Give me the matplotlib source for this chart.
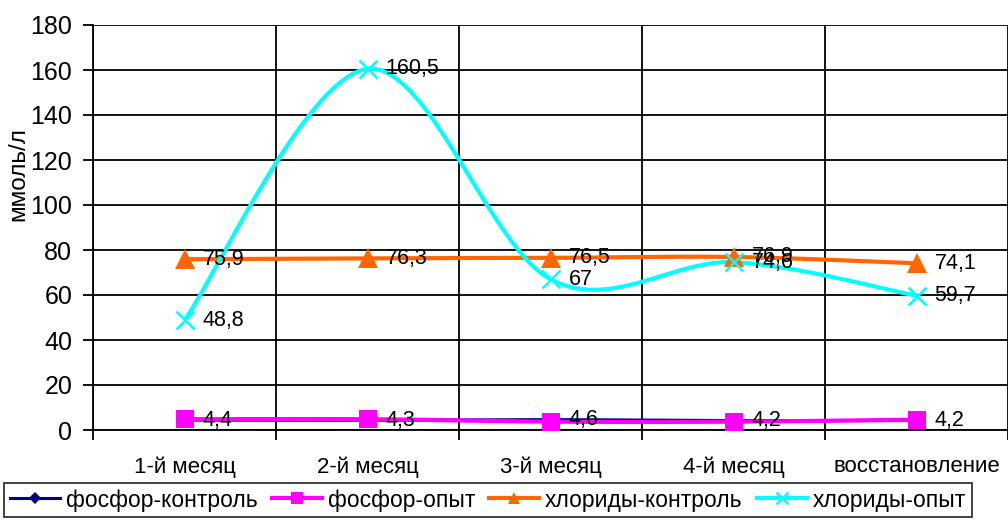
import numpy as np
import matplotlib
matplotlib.use("Agg")
import matplotlib.pyplot as plt
from matplotlib.lines import Line2D

plt.rcParams['font.family'] = ['Liberation Sans', 'DejaVu Sans']

categories = ["1-й месяц", "2-й месяц", "3-й месяц", "4-й месяц", "восстановление"]
phosphorus_control = [4.4, 4.3, 4.6, 4.2, 4.2]
phosphorus_test = [4.8, 4.8, 3.7, 3.7, 4.6]
chlorides_control = [75.9, 76.3, 76.5, 76.9, 74.1]
chlorides_test = [48.8, 160.5, 67.0, 74.6, 59.7]

series_names = ["фосфор-контроль", "фосфор-опыт", "хлориды-контроль", "хлориды-опыт"]
y_ticks = list(range(0, 181, 20))


def smooth(x, y, n=40):
    """Cubic Bezier smoothing through every point (Catmull-Rom style)."""
    x = np.asarray(x, float)
    y = np.asarray(y, float)
    px = np.concatenate([[x[0]], x, [x[-1]]])
    py = np.concatenate([[y[0]], y, [y[-1]]])
    xs, ys = [], []
    t = np.linspace(0, 1, n)
    for i in range(1, len(px) - 2):
        p0 = np.array([px[i], py[i]])
        p3 = np.array([px[i + 1], py[i + 1]])
        c1 = p0 + (np.array([px[i + 1], py[i + 1]]) - np.array([px[i - 1], py[i - 1]])) / 6
        c2 = p3 - (np.array([px[i + 2], py[i + 2]]) - np.array([px[i], py[i]])) / 6
        b = ((1 - t) ** 3)[:, None] * p0 + (3 * (1 - t) ** 2 * t)[:, None] * c1 \
            + (3 * (1 - t) * t ** 2)[:, None] * c2 + (t ** 3)[:, None] * p3
        xs.extend(b[:, 0])
        ys.extend(b[:, 1])
    return np.array(xs), np.array(ys)


fig = plt.figure(figsize=(10.08, 5.22), dpi=100)
ax = fig.add_axes([93 / 1008, (522 - 430) / 522, 915 / 1008, 405 / 522])

x = np.arange(len(categories))

styles = [
    dict(values=phosphorus_control, color="#000080", marker="D", ms=6, lw=2.2, mew=0, labels=True),
    dict(values=phosphorus_test, color="#FF00FF", marker="s", ms=13, lw=3.0, mew=0, labels=False),
    dict(values=chlorides_control, color="#FF6600", marker="^", ms=15, lw=3.0, mew=0, labels=True),
    dict(values=chlorides_test, color="#00FFFF", marker="x", ms=13, lw=3.0, mew=1.8, labels=True),
]

handles = []
for name, st in zip(series_names, styles):
    sx, sy = smooth(x, st["values"])
    ax.plot(sx, sy, color=st["color"], lw=st["lw"], solid_capstyle="butt", zorder=3)
    ax.plot(x, st["values"], linestyle="none", marker=st["marker"], ms=st["ms"],
            color=st["color"], mec=st["color"], mew=st["mew"], zorder=4)
    handles.append(Line2D([0], [0], color=st["color"], lw=st["lw"], marker=st["marker"],
                          ms=min(st["ms"], 9), mew=st["mew"], mec=st["color"]))
    if st["labels"]:
        for xi, v in zip(x, st["values"]):
            txt = f"{v:g}".replace(".", ",")
            ax.annotate(txt, (xi, v), xytext=(13, 0), textcoords="offset points",
                        va="center", ha="left", fontsize=15.5, color="black", zorder=5)

ax.set_xlim(-0.5, len(categories) - 0.5)
ax.set_ylim(0, 180)
ax.set_yticks(y_ticks)
ax.set_yticklabels([str(v) for v in y_ticks], fontsize=18)
ax.set_xticks(np.arange(len(categories) + 1) - 0.5)
ax.set_xticklabels([])
ax.set_xticks(x, minor=True)
ax.set_xticklabels(categories, minor=True, fontsize=16)
ax.tick_params(axis="x", which="minor", length=0, pad=19)
ax.tick_params(axis="x", which="major", direction="out", length=7, width=1.3)
ax.tick_params(axis="y", direction="out", length=7, width=1.3, pad=8)

ax.grid(True, which="major", color="black", lw=1.3)
ax.set_axisbelow(True)
for side in ["top", "right"]:
    ax.spines[side].set_visible(False)
for side in ["left", "bottom"]:
    ax.spines[side].set_linewidth(1.3)

fig.text(18 / 1008, 1 - 174 / 522, "ммоль/л", rotation=90, ha="center", va="center", fontsize=17.5)

leg = fig.legend(handles, series_names, loc="center", ncol=4,
                 bbox_to_anchor=(488 / 1008, 1 - 500 / 522), fontsize=16.5,
                 frameon=True, fancybox=False, edgecolor="black", handlelength=2.2,
                 handletextpad=0.25, columnspacing=0.6, borderpad=0.25, borderaxespad=0)
leg.get_frame().set_linewidth(1.3)

fig.savefig("out.png", dpi=100)
